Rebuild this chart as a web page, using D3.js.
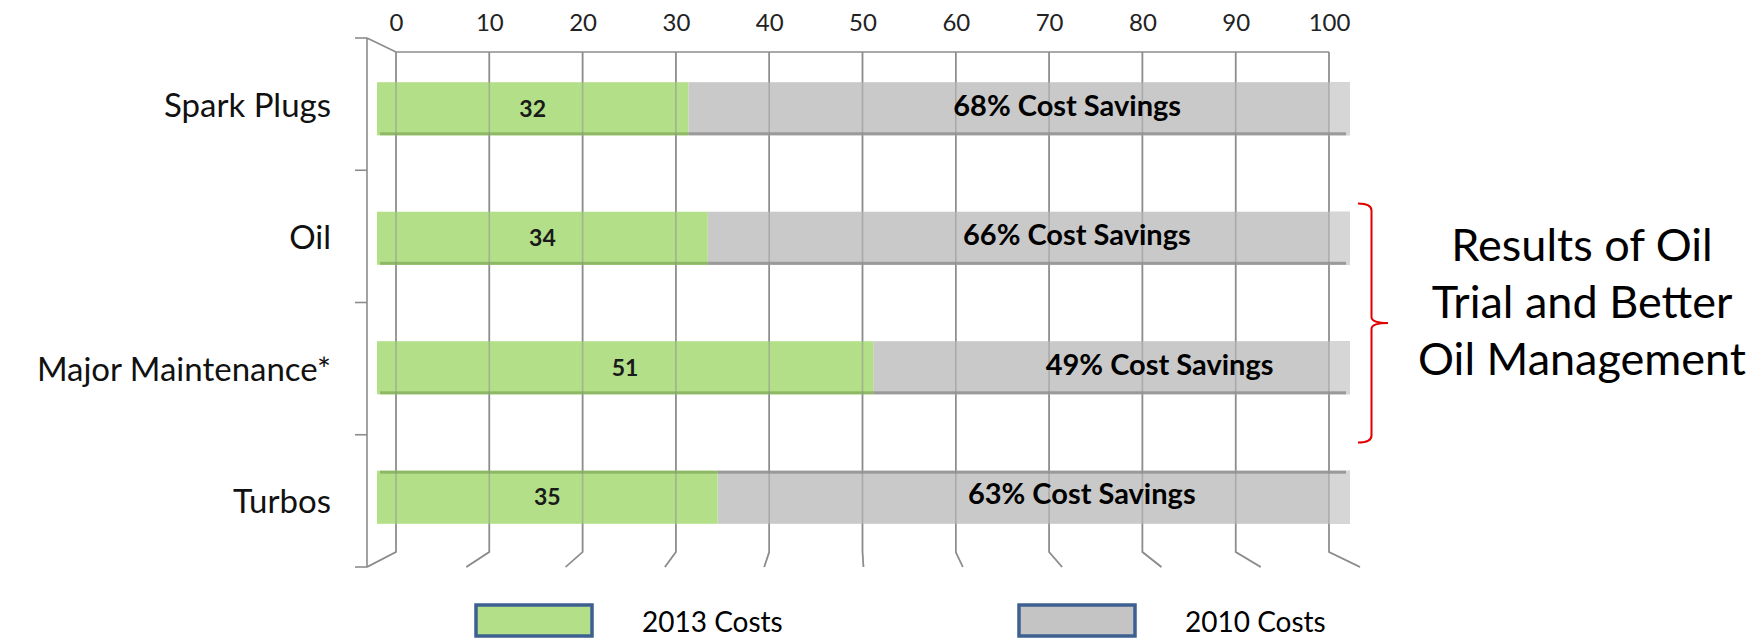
<html>
<head>
	<title>Cost savings chart</title>
	<style>
		body { margin: 0; background: #fff; }
		text { font-family: Lato, "Open Sans", sans-serif; }
	</style>
</head>
<body>
	<script src="https://cdnjs.cloudflare.com/ajax/libs/d3/7.8.5/d3.min.js"></script>
	<script type="text/javascript">
		// chart values
		var categories = ["Spark Plugs", "Oil", "Major Maintenance*", "Turbos"];
		var costs2013 = [32, 34, 51, 35];
		var savings = [68, 66, 49, 63];
		var xTicks = [0, 10, 20, 30, 40, 50, 60, 70, 80, 90, 100];
		var legendLabels = ["2013 Costs", "2010 Costs"];
		var noteLines = ["Results of Oil", "Trial and Better", "Oil Management"];

		var width = 1762, height = 638;
		var green = "#b3df88", greenDark = "#8fb866";
		var grey = "#c9c9c9", greyDark = "#9a9a9a", greyLight = "#d6d6d6";
		var gridColor = "#8c8c8c";

		var svg = d3.select("body").append("svg")
			.attr("width", width)
			.attr("height", height);

		// 3d look: back wall, front plane and the bars in between
		var xBack = d3.scaleLinear().domain([0, 100]).range([396, 1329]);
		var xFront = d3.scaleLinear().domain([0, 100]).range([367, 1360]);
		var xBar = d3.scaleLinear().domain([0, 100]).range([377, 1350]);
		var yWall = d3.scaleBand().domain(categories).range([38, 567]);
		var yBar = d3.scaleBand().domain(categories).range([44, 562])
			.paddingInner(0.59).paddingOuter(0.295);
		var backTop = 52, backBottom = 552;

		function drawGrid(g){
			g.selectAll("path.grid")
				.data(xTicks)
				.enter().append("path")
				.attr("class", "grid")
				.attr("d", function(v){
					return "M" + [xBack(v), backTop] + " V" + backBottom + " L" + [xFront(v), yWall.range()[1]];
				})
				.style("fill", "none")
				.style("stroke", gridColor)
				.style("stroke-width", "1.6px");
		}

		var gridBack = svg.append("g");
		drawGrid(gridBack);
		// top line of the back wall
		gridBack.append("path")
			.attr("d", "M" + [xBack(0), backTop] + " H" + xBack(100))
			.style("stroke", gridColor)
			.style("stroke-width", "1.6px");
		// left wall
		gridBack.append("path")
			.attr("d", "M" + [xFront(0), yWall.range()[0]] + " V" + yWall.range()[1]
				+ " M" + [xFront(0), yWall.range()[0]] + " L" + [xBack(0), backTop])
			.style("fill", "none")
			.style("stroke", gridColor)
			.style("stroke-width", "1.6px");
		var wallTicks = categories.map(function(c){ return yWall(c); }).concat([yWall.range()[1]]);
		gridBack.selectAll("line.wtick")
			.data(wallTicks)
			.enter().append("line")
			.attr("x1", xFront(0) - 12)
			.attr("x2", xFront(0))
			.attr("y1", function(d){ return d; })
			.attr("y2", function(d){ return d; })
			.style("stroke", gridColor)
			.style("stroke-width", "1.6px");

		// bars
		var rows = categories.map(function(c, i){
			return {cat: c, v: costs2013[i], s: savings[i], i: i};
		});
		var bh = yBar.bandwidth();
		var barG = svg.append("g");
		rows.forEach(function(r){
			var y0 = yBar(r.cat);
			var topEdge = r.i == rows.length - 1;
			// grey 2010 part
			barG.append("rect")
				.attr("x", xBar(r.v))
				.attr("y", y0)
				.attr("width", xBar(100) - xBar(r.v))
				.attr("height", bh)
				.style("fill", grey);
			barG.append("rect")
				.attr("x", xBack(100))
				.attr("y", y0)
				.attr("width", xBar(100) - xBack(100))
				.attr("height", bh)
				.style("fill", greyLight);
			// green 2013 part
			barG.append("rect")
				.attr("x", xBar(0))
				.attr("y", y0)
				.attr("width", xBar(r.v) - xBar(0))
				.attr("height", bh)
				.style("fill", green);
			// shaded edge
			barG.append("rect")
				.attr("x", xBar(0) + 3)
				.attr("y", topEdge ? y0 : y0 + bh - 3)
				.attr("width", xBar(r.v) - xBar(0) - 3)
				.attr("height", 3)
				.style("fill", greenDark);
			barG.append("rect")
				.attr("x", xBar(r.v))
				.attr("y", topEdge ? y0 : y0 + bh - 3)
				.attr("width", xBar(100) - xBar(r.v) - 4)
				.attr("height", 3)
				.style("fill", greyDark);
		});

		// grid seen through the bars
		var gridFront = svg.append("g").style("opacity", 0.5);
		drawGrid(gridFront);

		// value labels
		barG = svg.append("g");
		barG.selectAll("text.v13")
			.data(rows)
			.enter().append("text")
			.attr("x", function(d){ return (xBar(0) + xBar(d.v)) / 2; })
			.attr("y", function(d){ return yBar(d.cat) + bh / 2; })
			.attr("dy", "0.35em")
			.attr("text-anchor", "middle")
			.style("font-weight", "bold")
			.style("font-size", "23px")
			.style("fill", "#1a1a1a")
			.text(function(d){ return d.v; });
		barG.selectAll("text.sav")
			.data(rows)
			.enter().append("text")
			.attr("x", function(d){ return (xBar(d.v) + xBar(100)) / 2 + 48; })
			.attr("y", function(d){ return yBar(d.cat) + bh / 2 - 3; })
			.attr("dy", "0.35em")
			.attr("text-anchor", "middle")
			.style("font-weight", "bold")
			.style("font-size", "29px")
			.style("fill", "#000")
			.text(function(d){ return d.s + "% Cost Savings"; });

		// axes
		var topAxis = svg.append("g")
			.attr("transform", "translate(0,31)")
			.call(d3.axisTop(xBack).tickValues(xTicks).tickSize(0).tickPadding(0));
		topAxis.select(".domain").remove();
		topAxis.selectAll("text")
			.style("font-family", "Lato, sans-serif")
			.style("font-size", "24px")
			.style("fill", "#222");

		var leftAxis = svg.append("g")
			.attr("transform", "translate(331,2)")
			.call(d3.axisLeft(yWall).tickSize(0).tickPadding(0));
		leftAxis.select(".domain").remove();
		leftAxis.selectAll("text")
			.style("font-family", "Lato, sans-serif")
			.style("font-size", "33px")
			.style("fill", "#111");

		// legend
		var legend = svg.append("g");
		var legendX = [476, 1019];
		var legendColors = [green, "#c4c4c4"];
		legendLabels.forEach(function(l, i){
			legend.append("rect")
				.attr("x", legendX[i])
				.attr("y", 605)
				.attr("width", 116)
				.attr("height", 31)
				.style("fill", legendColors[i])
				.style("stroke", "#3e6091")
				.style("stroke-width", "3.5px");
			legend.append("text")
				.attr("x", legendX[i] + 166)
				.attr("y", 622)
				.attr("dy", "0.35em")
				.style("font-size", "28px")
				.style("fill", "#000")
				.text(l);
		});

		// bracket round Oil and Major Maintenance
		var by0 = 203.5, by1 = 442.5, bm = (by0 + by1) / 2, bx = 1371.5;
		svg.append("path")
			.attr("d", "M" + [1358, by0] + " Q" + [bx, by0] + " " + [bx, by0 + 7]
				+ " V" + (bm - 6) + " Q" + [bx, bm] + " " + [1388, bm]
				+ " Q" + [bx, bm] + " " + [bx, bm + 6]
				+ " V" + (by1 - 7) + " Q" + [bx, by1] + " " + [1358, by1])
			.style("fill", "none")
			.style("stroke", "#e00000")
			.style("stroke-width", "2px");

		svg.append("g").selectAll("text")
			.data(noteLines)
			.enter().append("text")
			.attr("x", 1582)
			.attr("y", function(d, i){ return 245 + i * 57; })
			.attr("dy", "0.35em")
			.attr("text-anchor", "middle")
			.style("font-size", "45px")
			.style("fill", "#000")
			.text(function(d){ return d; });
	</script>
</body>
</html>
